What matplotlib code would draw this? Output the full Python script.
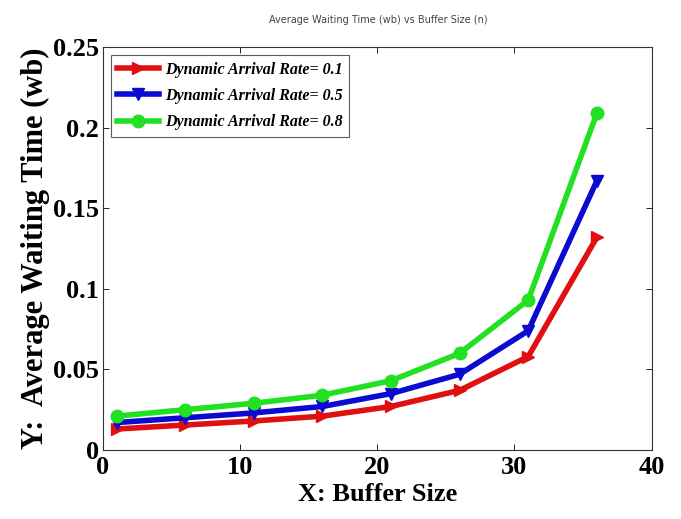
import numpy as np
import matplotlib.pyplot as plt

buffer_size = [1, 6, 11, 16, 21, 26, 31, 36]
wait_01 = [0.013, 0.0155, 0.018, 0.021, 0.027, 0.037, 0.058, 0.132]
wait_05 = [0.017, 0.020, 0.023, 0.027, 0.035, 0.047, 0.074, 0.167]
wait_08 = [0.021, 0.025, 0.029, 0.034, 0.043, 0.060, 0.093, 0.209]

fig = plt.figure(figsize=(6.81, 5.19), dpi=100)
ax = fig.add_axes([0.151, 0.133, 0.806, 0.776])

ax.plot(buffer_size, wait_01, color='#e01010', lw=4, marker='>', ms=9,
        label='Dynamic Arrival Rate= 0.1')
ax.plot(buffer_size, wait_05, color='#0a0ad0', lw=4, marker='v', ms=9,
        label='Dynamic Arrival Rate= 0.5')
ax.plot(buffer_size, wait_08, color='#22e022', lw=4, marker='o', ms=9,
        label='Dynamic Arrival Rate= 0.8')

ax.set_xlim(0, 40)
ax.set_ylim(0, 0.25)
ax.set_xticks([0, 10, 20, 30, 40])
ax.set_yticks([0, 0.05, 0.1, 0.15, 0.2, 0.25])
ax.set_yticklabels(['0', '0.05', '0.1', '0.15', '0.2', '0.25'])
ax.tick_params(direction='in', length=4, top=True, right=True, width=0.6)
ax.tick_params(axis='y', pad=3)
ax.tick_params(axis='x', pad=4)
for lab in ax.get_xticklabels():
    lab.set_fontfamily('Liberation Serif')
    lab.set_fontweight('bold')
    lab.set_fontsize(19)
for lab in ax.get_yticklabels():
    lab.set_fontfamily('Liberation Serif')
    lab.set_fontweight('bold')
    lab.set_fontsize(19)
for s in ax.spines.values():
    s.set_linewidth(0.8)
    s.set_color('#333333')

ax.set_xlabel('X: Buffer Size', family='Liberation Serif', weight='bold',
              fontsize=19, labelpad=3)
ax.set_ylabel('Y:  Average Waiting Time (wb)', family='Liberation Serif',
              weight='bold', fontsize=22, labelpad=2)
fig.text(0.555, 0.962, 'Average Waiting Time (wb) vs Buffer Size (n)',
         ha='center', va='center', fontsize=7, color='#444444')

leg = ax.legend(loc='upper left', handlelength=2.6, fancybox=False,
                edgecolor='#333333', borderaxespad=0.5, labelspacing=0.65,
                handletextpad=0.4,
                prop={'family': 'Liberation Serif', 'weight': 'bold',
                      'style': 'italic', 'size': 11.5})
leg.get_frame().set_linewidth(0.8)

fig.savefig('out.png', dpi=100)
